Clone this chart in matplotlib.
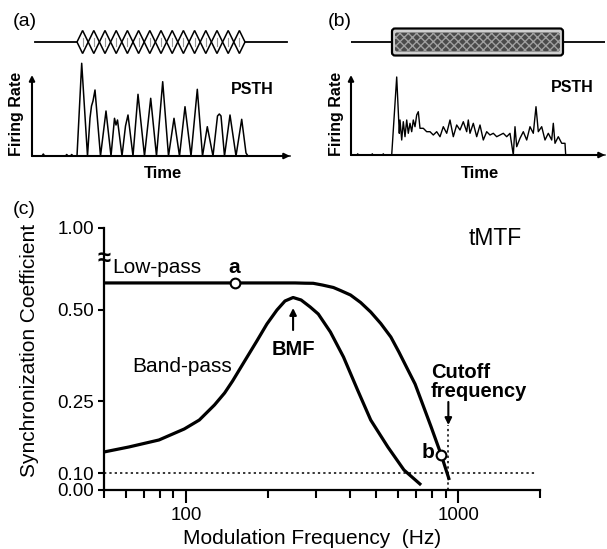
import numpy as np
import matplotlib
matplotlib.use("Agg")
import matplotlib.pyplot as plt
from matplotlib.patches import FancyBboxPatch
from matplotlib.ticker import FixedLocator, NullFormatter, FixedFormatter

plt.rcParams['font.family'] = ['Liberation Sans', 'DejaVu Sans']

# ---------------- data ----------------
# (a) AM tone: envelope peak times, PSTH trace (time, rate)
am_centers = [50.6, 61.8, 73.0, 84.2, 95.4, 106.6, 117.8, 129.0,
              140.2, 151.4, 162.6, 173.8, 185.0, 196.2, 207.4]
psth_a_time = [0, 10, 11.3, 12.6, 33.5, 34.7, 36, 38.5, 39.7, 41, 45, 49.7,
               55.5, 58, 59.5, 61, 63, 68.5, 74, 79, 82.5, 84, 85.5, 90,
               93.5, 96, 101, 106, 112.5, 118.7, 124.5, 130.7, 136.5, 142,
               147.5, 153, 159, 165.3, 170.5, 175.3, 181, 185.5, 187.3, 189,
               192.5, 198, 204, 209.7, 214, 216, 258]
psth_a_rate = [0, 0, 2, 0, 0, 1.5, 0, 0, 1.5, 0, 0, 92.7,
               0, 38, 50, 55, 66, 0, 45, 0, 37.7, 31, 36, 0,
               30, 41, 0, 61.7, 0, 57.7, 0, 74.3, 0, 37.7,
               0, 49.3, 0, 66.7, 0, 29.3, 0, 40, 42, 40,
               0, 41, 0, 36.7, 3, 0, 0]

# (b) noise: PSTH trace (time, rate)
psth_b_time = [0, 6, 6.7, 7.5, 20.5, 21.3, 22, 31.5, 32.3, 33, 40.7, 45.7,
               48.3, 49, 50.7, 52.3, 54, 55.7, 57.3, 59, 60.7, 62.3, 64,
               65.7, 67.3, 69, 72.3, 75.7, 79, 82.3, 85.7, 89, 92.3, 95.7,
               99, 102.3, 105.7, 109, 112.3, 115.7, 117.3, 119, 122.3,
               125.7, 129, 132.3, 135.7, 139, 142.3, 145.7, 149, 152.3,
               155.7, 159, 162.3, 164, 165.7, 169, 172.3, 175.7, 179,
               182.3, 185, 187.3, 190.7, 194, 197.3, 200.7, 202.3, 204,
               207.3, 210.7, 214, 214.7, 254]
psth_b_rate = [0, 0, 1.2, 0, 0, 1.2, 0, 0, 1.2, 0, 0, 78,
               21.7, 35, 15, 33.3, 18.3, 35, 21.7, 31.7, 23.3, 35, 28.3,
               40, 43.3, 26.7, 26.7, 23.3, 23.3, 20, 23.3, 18.3, 28.3, 21.7,
               35, 18.3, 30, 25, 33.3, 23.3, 35, 21.7, 31.7,
               18.3, 30, 15, 23.3, 20, 21.7, 18.3, 20, 21.7,
               18.3, 21.7, 0, 28.3, 8.3, 16.7, 23.3, 15, 28.3,
               21.7, 48.3, 23.3, 28.3, 15, 21.7, 15, 31.7, 11.7,
               18.3, 11.7, 11.7, 0, 0]
noise_on, noise_off = 41, 212

# (c) tMTF curves (frequency in Hz, synchronization coefficient)
lowpass_freq = [50, 151, 221.6, 251.8, 274.2, 293.6, 317, 348.3, 369.7, 402.5,
                438.5, 477.5, 519.9, 566.2, 606.1, 654.4, 695, 731.3, 796.4,
                867.3, 928.6]
lowpass_sync = [0.665, 0.665, 0.665, 0.665, 0.6634, 0.6628, 0.6524, 0.6372,
                0.6189, 0.5915, 0.5457, 0.4945, 0.4629, 0.4258, 0.3846, 0.3352,
                0.2967, 0.2527, 0.1958, 0.1375, 0.0588]
bandpass_freq = [50, 61.7, 79.6, 98.6, 112, 127.3, 138.7, 148.4, 164.4, 182.2,
                 198.4, 216, 231.2, 247.6, 265, 286.2, 306.4, 339.5, 379.3,
                 427.3, 477.5, 552, 632.6, 731.3]
bandpass_sync = [0.1438, 0.1542, 0.1688, 0.1917, 0.2104, 0.2417, 0.2720, 0.3049,
                 0.3599, 0.4148, 0.4615, 0.5, 0.5549, 0.5762, 0.5610, 0.5183,
                 0.4890, 0.4396, 0.3709, 0.2802, 0.2104, 0.1542, 0.1063, 0.0294]
point_a = (151, 0.665)
point_b = (867.3, 0.1375)
bmf = 247.6
cutoff = 921
criterion = 0.10
y_ticks = [0.00, 0.10, 0.25, 0.50, 1.00]
y_ticklabels = ['0.00', '0.10', '0.25', '0.50', '1.00']

# ---------------- layout helpers ----------------
W, H = 607, 549
fig = plt.figure(figsize=(W / 100, H / 100), dpi=100)


def box(l, t, r, b):
    return [l / W, 1 - b / H, (r - l) / W, (b - t) / H]


def arrow_axes(ax):
    ax.set_axis_off()
    for end in [(0, 1), (1, 0)]:
        ax.annotate('', xy=end, xytext=(0, 0), xycoords='axes fraction',
                    arrowprops=dict(arrowstyle='-|>', lw=1.5, color='k',
                                    mutation_scale=8, shrinkA=0, shrinkB=0))


# ---------------- panel (a) ----------------
sa = fig.add_axes(box(32, 24, 290, 60))
sa.set_xlim(0, 258)
sa.set_ylim(-18, 18)
sa.set_axis_off()
sa.plot([3, 255], [0, 0], color='k', lw=1.3, zorder=1)
for c in am_centers:
    sa.fill([c - 5.6, c, c + 5.6, c], [0, 11.5, 0, -11.5],
            fc='white', ec='k', lw=1.1, zorder=2)
    sa.plot([c, c], [-4, 4], color='#999999', lw=0.8, zorder=3)

pa = fig.add_axes(box(32, 75, 290, 156))
pa.set_xlim(0, 258)
pa.set_ylim(0, 81)
arrow_axes(pa)
pa.plot(psth_a_time, psth_a_rate, color='k', lw=1.1, clip_on=False)

fig.text(13 / W, 1 - 22 / H, '(a)', fontsize=14, va='center')
fig.text(17 / W, 1 - 114 / H, 'Firing Rate', fontsize=11.5, weight='bold',
         rotation=90, ha='center', va='center')
fig.text(252 / W, 1 - 90 / H, 'PSTH', fontsize=11.5, weight='bold',
         ha='center', va='center')
fig.text(163 / W, 1 - 173 / H, 'Time', fontsize=12, weight='bold',
         ha='center', va='center')

# ---------------- panel (b) ----------------
sb = fig.add_axes(box(351, 24, 605, 60))
sb.set_xlim(0, 254)
sb.set_ylim(-18, 18)
sb.set_axis_off()
sb.plot([-1, 254], [0, 0], color='k', lw=1.3, zorder=1)
sb.add_patch(FancyBboxPatch((noise_on, -13.5), noise_off - noise_on, 27,
                            boxstyle='round,pad=0,rounding_size=3',
                            fc='#d0d0d0', ec='k', lw=1.6, zorder=2))
sb.add_patch(FancyBboxPatch((noise_on + 3, -9.5), noise_off - noise_on - 6, 19,
                            boxstyle='round,pad=0,rounding_size=2',
                            fc='#4a4a4a', ec='#a0a0a0', lw=0, hatch='xxxx',
                            zorder=3))

pb = fig.add_axes(box(351, 75, 605, 155))
pb.set_xlim(0, 254)
pb.set_ylim(0, 80)
arrow_axes(pb)
pb.plot(psth_b_time, psth_b_rate, color='k', lw=1.0, clip_on=False)

fig.text(328 / W, 1 - 22 / H, '(b)', fontsize=14, va='center')
fig.text(337 / W, 1 - 114 / H, 'Firing Rate', fontsize=11.5, weight='bold',
         rotation=90, ha='center', va='center')
fig.text(572 / W, 1 - 88 / H, 'PSTH', fontsize=11.5, weight='bold',
         ha='center', va='center')
fig.text(480 / W, 1 - 173 / H, 'Time', fontsize=12, weight='bold',
         ha='center', va='center')

# ---------------- panel (c) ----------------
ax = fig.add_axes(box(104, 228, 540, 490))

# broken, non-linear ordinate as drawn in the original figure
y_anchor = [0.00, 0.10, 0.25, 0.50, 1.00]
y_pos = [0, 17, 89, 180, 262]


def fwd(v):
    return np.interp(v, y_anchor, y_pos)


def inv(p):
    return np.interp(p, y_pos, y_anchor)


ax.set_xscale('log')
ax.set_yscale('function', functions=(fwd, inv))
ax.set_xlim(50, 2000)
ax.set_ylim(0, 1)

ax.plot(lowpass_freq, lowpass_sync, color='k', lw=2.3, solid_joinstyle='round',
        solid_capstyle='butt', zorder=3)
ax.plot(bandpass_freq, bandpass_sync, color='k', lw=2.3, solid_joinstyle='round',
        solid_capstyle='butt', zorder=3)
ax.plot([50, 1950], [criterion, criterion], color='k', lw=1.1,
        linestyle=(0, (1.5, 2)), zorder=2)
ax.plot([cutoff, cutoff], [0, 0.2], color='k', lw=1.1,
        linestyle=(0, (1.5, 2)), zorder=2)
for p in (point_a, point_b):
    ax.plot(*p, 'o', ms=7, mfc='white', mec='k', mew=1.5, zorder=4)

ax.annotate('', xy=(cutoff, 0.2), xytext=(cutoff, 0.248),
            arrowprops=dict(arrowstyle='-|>', lw=1.5, color='k',
                            mutation_scale=10, shrinkA=0, shrinkB=0))
ax.annotate('', xy=(bmf, 0.512), xytext=(bmf, 0.445),
            arrowprops=dict(arrowstyle='-|>', lw=1.5, color='k',
                            mutation_scale=10, shrinkA=0, shrinkB=0))

ax.text(53.8, 0.726, 'Low-pass', fontsize=15, va='baseline')
ax.text(point_a[0], 0.726, 'a', fontsize=15, weight='bold', ha='center',
        va='baseline')
ax.text(97, 0.33, 'Band-pass', fontsize=15, ha='center', va='baseline')
ax.text(bmf, 0.376, 'BMF', fontsize=14.5, weight='bold', ha='center',
        va='baseline')
ax.text(1091, 0.896, 'tMTF', fontsize=16.5, va='baseline')
ax.text(796, 0.313, 'Cutoff', fontsize=14.5, weight='bold', va='baseline')
ax.text(796, 0.261, 'frequency', fontsize=14.5, weight='bold', va='baseline')
ax.text(820, 0.131, 'b', fontsize=15, weight='bold', ha='right',
        va='baseline')
# axis-break mark on the ordinate
ax.text(50, 0.817, '\u2248', fontsize=17, weight='bold', ha='center',
        va='center', clip_on=False)

for s in ('top', 'right'):
    ax.spines[s].set_visible(False)
for s in ('left', 'bottom'):
    ax.spines[s].set_linewidth(1.6)

ax.yaxis.set_major_locator(FixedLocator(y_ticks))
ax.yaxis.set_major_formatter(FixedFormatter(y_ticklabels))
ax.yaxis.set_minor_locator(FixedLocator([]))
ax.xaxis.set_major_locator(FixedLocator([100, 1000]))
ax.xaxis.set_major_formatter(FixedFormatter(['100', '1000']))
ax.xaxis.set_minor_locator(FixedLocator([50, 60, 70, 80, 90, 200, 300, 400, 500,
                                         600, 700, 800, 900, 2000]))
ax.xaxis.set_minor_formatter(NullFormatter())
ax.tick_params(axis='x', which='major', length=9, width=1.5, labelsize=13.5,
               pad=3)
ax.tick_params(axis='x', which='minor', length=6, width=1.5)
ax.tick_params(axis='y', length=4, width=1.5, labelsize=13.5, pad=3)

fig.text(13 / W, 1 - 209 / H, '(c)', fontsize=14, va='center')
fig.text(30 / W, 1 - 350 / H, 'Synchronization Coefficient', fontsize=15,
         rotation=90, ha='center', va='center')
fig.text(312 / W, 1 - 538 / H, 'Modulation Frequency  (Hz)', fontsize=15,
         ha='center', va='center')

fig.savefig('out.png', dpi=100)
